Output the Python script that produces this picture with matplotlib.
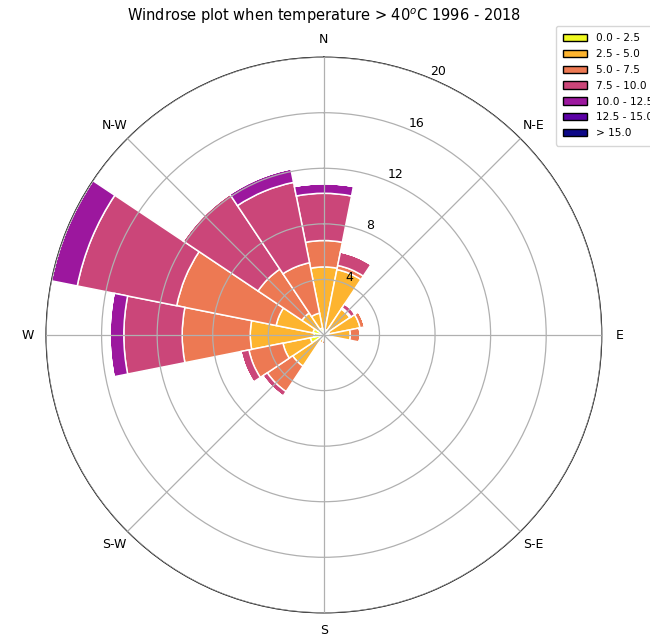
import numpy as np
import matplotlib
matplotlib.use("Agg")
import matplotlib.pyplot as plt
from matplotlib.patches import Patch

# wind directions, clockwise from north
directions = ["N", "NNE", "NE", "ENE", "E", "ESE", "SE", "SSE",
              "S", "SSW", "SW", "WSW", "W", "WNW", "NW", "NNW"]

# frequency (%) in each speed bin, per direction
spd_0_25 = [0.4, 0.4, 0.4, 0.4, 0.3, 0.2, 0.0, 0.0,
            0.25, 0.2, 0.3, 1.0, 0.7, 0.8, 0.5, 0.5]
spd_25_5 = [4.5, 4.4, 1.85, 2.25, 1.6, 0.2, 0.0, 0.0,
            0.15, 0.4, 2.4, 2.0, 4.6, 2.7, 1.4, 1.1]
spd_5_75 = [1.9, 0.3, 0.1, 0.35, 0.7, 0.0, 0.0, 0.0,
            0.25, 0.0, 2.2, 2.5, 4.9, 7.3, 3.8, 3.7]
spd_75_10 = [3.4, 1.0, 0.35, 0.0, 0.0, 0.0, 0.0, 0.0,
             0.0, 0.0, 0.4, 0.6, 4.2, 7.3, 6.5, 5.9]
spd_10_125 = [0.7, 0.0, 0.0, 0.0, 0.0, 0.0, 0.0, 0.0,
              0.0, 0.0, 0.0, 0.0, 1.0, 1.9, 0.0, 1.0]
spd_125_15 = [0.0] * 16
spd_15 = [0.0] * 16

bins = [spd_0_25, spd_25_5, spd_5_75, spd_75_10, spd_10_125, spd_125_15, spd_15]
bin_labels = ["0.0 - 2.5", "2.5 - 5.0", "5.0 - 7.5", "7.5 - 10.0",
              "10.0 - 12.5", "12.5 - 15.0", "> 15.0"]
compass = ["N", "N-E", "E", "S-E", "S", "S-W", "W", "N-W"]

colors = [plt.cm.plasma_r(v) for v in np.linspace(0, 1, len(bins))]

fig = plt.figure(figsize=(6.5, 6.34), dpi=100)
ax = fig.add_axes([0.0708, 0.0331, 0.855, 0.877], projection="polar")
ax.set_theta_zero_location("N")
ax.set_theta_direction(-1)

theta = np.deg2rad(np.arange(16) * 22.5)
width = np.deg2rad(22.5)
bottom = np.zeros(16)
for vals, c in zip(bins, colors):
    vals = np.array(vals)
    ax.bar(theta, vals, width=width, bottom=bottom, color=c,
           edgecolor="white", linewidth=1.1, zorder=1)
    bottom += vals

ax.set_axisbelow(False)
ax.set_ylim(0, 20)
ax.set_rgrids([4, 8, 12, 16, 20], labels=["4", "8", "12", "16", "20"], angle=22.5,
              fontsize=9)
ax.set_thetagrids(np.arange(0, 360, 45), labels=compass, fontsize=9)
ax.tick_params(axis="x", pad=2.5)
ax.grid(color="#b0b0b0", linewidth=0.9)
ax.spines["polar"].set_color("black")
ax.spines["polar"].set_linewidth(0.8)

handles = [Patch(facecolor=c, edgecolor="black") for c in colors]
ax.legend(handles, bin_labels, loc="upper left", fontsize=7.6, labelspacing=0.55,
          handlelength=2.3, borderpad=0.7,
          bbox_to_anchor=(0.855, 0.959), bbox_transform=fig.transFigure,
          borderaxespad=0)

ax.set_title("Windrose plot when temperature > 40$^o$C 1996 - 2018",
             fontsize=10.5, pad=8)

fig.savefig("out.png", dpi=100)
